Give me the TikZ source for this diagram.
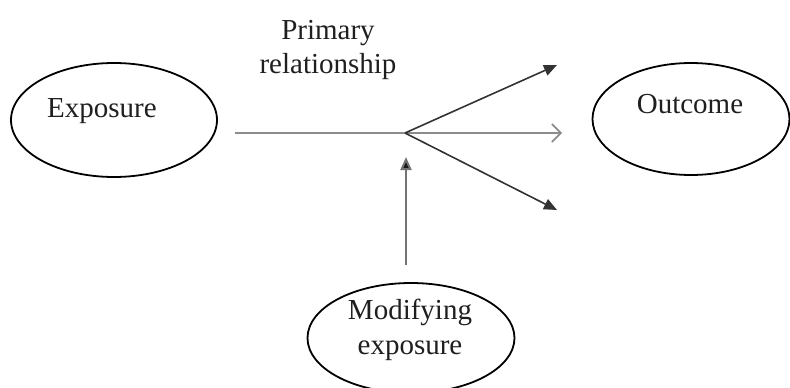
\documentclass[tikz,border=0pt]{standalone}
\usepackage{fontspec}
\setmainfont{Liberation Serif}
\usetikzlibrary{shapes.geometric,arrows.meta}

\tikzset{
  oval/.style={draw=black, line width=1.8pt, ellipse, inner sep=0pt},
  lbl/.style={text=black!88, font=\fontsize{29}{34.5}\selectfont, align=center, inner sep=0pt, anchor=base},
  mainline/.style={draw=black!45, line width=2.2pt},
  branch/.style={draw=black!80, line width=1.6pt, -{Triangle[length=13pt,width=11pt]}},
  modline/.style={draw=black!55, line width=2pt, -{Triangle[length=13pt,width=11pt,fill=black!90]}},
  openhead/.style={-{Straight Barb[length=9pt,width=18pt,line width=1.6pt]}}
}

\begin{document}
\begin{tikzpicture}[x=1pt,y=-1pt]
  \useasboundingbox (0,0) rectangle (790,388);

  % the three ovals
  \node[oval, minimum width=206pt, minimum height=114pt] (exposure) at (114,120) {};
  \node[oval, minimum width=197pt, minimum height=112pt] (outcome) at (691,119) {};
  \node[oval, minimum width=207pt, minimum height=110pt] (modifying) at (411,338) {};

  % labels
  \node[lbl] (exposureText) at (102,117) {Exposure};
  \node[lbl] (outcomeText) at (690,113) {Outcome};
  \node[lbl, anchor=north] (modText) at (410,299) {Modifying\\exposure};
  \node[lbl, anchor=north] (primary) at (328,20) {Primary\\relationship};

  % connector end points
  \coordinate (hstart) at (235,133);
  \coordinate (hub) at (405,133);
  \coordinate (hend) at (562,133);
  \coordinate (upend) at (557,65);
  \coordinate (downend) at (557,210);
  \coordinate (modtop) at (406,157);
  \coordinate (modfoot) at (406,265);

  % primary relationship and its branches
  \draw[mainline, openhead] (hstart) -- (hend);
  \draw[branch] (hub) -- (upend);
  \draw[branch] (hub) -- (downend);

  % modifying exposure acting on the hub
  \draw[modline] (modfoot) -- (modtop);
\end{tikzpicture}
\end{document}
